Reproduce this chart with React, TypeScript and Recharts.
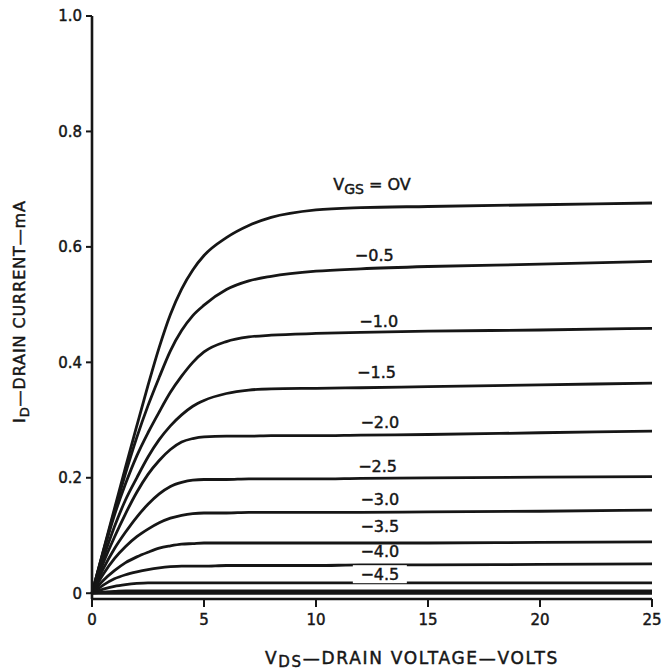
import React from 'react';
import { LineChart, Line, XAxis, YAxis, ReferenceDot } from 'recharts';

// Drain-source voltage sample points (volts)
const vds = [0, 0.5, 1, 1.5, 2, 2.5, 3, 3.5, 4, 4.5, 5, 6, 7, 8, 10, 12, 15, 20, 25];

// Drain current (mA) for each gate voltage
const idVgs0 = [0, 0.073, 0.146, 0.219, 0.29, 0.36, 0.426, 0.483, 0.527, 0.56, 0.585, 0.616, 0.637, 0.651, 0.664, 0.668, 0.67, 0.673, 0.676];
const idVgsM05 = [0, 0.072, 0.142, 0.208, 0.27, 0.325, 0.374, 0.42, 0.455, 0.481, 0.499, 0.526, 0.541, 0.549, 0.558, 0.562, 0.566, 0.57, 0.575];
const idVgsM10 = [0, 0.07, 0.135, 0.19, 0.238, 0.278, 0.314, 0.348, 0.376, 0.4, 0.418, 0.436, 0.444, 0.447, 0.45, 0.452, 0.454, 0.456, 0.459];
const idVgsM15 = [0, 0.06, 0.115, 0.162, 0.2, 0.236, 0.266, 0.29, 0.309, 0.324, 0.334, 0.346, 0.352, 0.354, 0.355, 0.356, 0.358, 0.361, 0.364];
const idVgsM20 = [0, 0.052, 0.097, 0.138, 0.175, 0.206, 0.23, 0.249, 0.262, 0.268, 0.271, 0.272, 0.272, 0.273, 0.273, 0.274, 0.275, 0.278, 0.281];
const idVgsM25 = [0, 0.042, 0.077, 0.106, 0.132, 0.154, 0.172, 0.185, 0.192, 0.196, 0.197, 0.197, 0.198, 0.198, 0.198, 0.199, 0.2, 0.201, 0.202];
const idVgsM30 = [0, 0.033, 0.06, 0.081, 0.098, 0.111, 0.122, 0.13, 0.135, 0.138, 0.139, 0.139, 0.14, 0.14, 0.14, 0.14, 0.141, 0.142, 0.144];
const idVgsM35 = [0, 0.022, 0.039, 0.053, 0.063, 0.071, 0.078, 0.082, 0.085, 0.086, 0.087, 0.087, 0.087, 0.087, 0.087, 0.087, 0.087, 0.088, 0.089];
const idVgsM40 = [0, 0.014, 0.025, 0.032, 0.037, 0.041, 0.044, 0.046, 0.047, 0.047, 0.047, 0.048, 0.048, 0.048, 0.048, 0.049, 0.049, 0.05, 0.051];
const idVgsM45 = [0, 0.007, 0.012, 0.015, 0.017, 0.018, 0.018, 0.018, 0.018, 0.018, 0.018, 0.018, 0.018, 0.018, 0.018, 0.018, 0.018, 0.018, 0.018];
const idVgsM50 = [0, 0.002, 0.003, 0.004, 0.004, 0.004, 0.004, 0.004, 0.004, 0.004, 0.004, 0.004, 0.004, 0.004, 0.004, 0.004, 0.004, 0.004, 0.004];
const idVgsM55 = [0, 0, 0, 0, 0, 0, 0, 0, 0, 0, 0, 0, 0, 0, 0, 0, 0, 0, 0];

const seriesKeys = ['v0', 'm05', 'm10', 'm15', 'm20', 'm25', 'm30', 'm35', 'm40', 'm45', 'm50', 'm55'];
const seriesValues = [idVgs0, idVgsM05, idVgsM10, idVgsM15, idVgsM20, idVgsM25, idVgsM30, idVgsM35, idVgsM40, idVgsM45, idVgsM50, idVgsM55];

// Tick values and labels
const xTicks = [0, 5, 10, 15, 20, 25];
const yTicks = [0, 0.2, 0.4, 0.6, 0.8, 1.0];
const yTickLabels = ['0', '0.2', '0.4', '0.6', '0.8', '1.0'];

// Curve annotations (anchored in data units)
const curveLabelText = ['−0.5', '−1.0', '−1.5', '−2.0', '−2.5', '−3.0', '−3.5', '−4.0', '−4.5'];
const curveLabelVds = [12.6, 12.8, 12.7, 12.85, 12.75, 12.85, 12.85, 12.85, 12.85];
const curveLabelId = [0.586, 0.471, 0.383, 0.296, 0.219, 0.163, 0.115, 0.073, 0.033];
const curveLabelBg = [false, false, false, false, false, false, false, false, true];
const vgsLabelVds = 12.5;
const vgsLabelId = 0.709;

const data = vds.map((v, i) => {
  const row: Record<string, number> = { vds: v };
  seriesKeys.forEach((k, j) => {
    row[k] = seriesValues[j][i];
  });
  return row;
});

const INK = '#161616';
const FONT = '"DejaVu Sans", "Liberation Sans", sans-serif';

const CurveLabel = (props: any) => {
  const { viewBox, text, bg } = props;
  if (!viewBox) return null;
  const cx = viewBox.x + viewBox.width / 2;
  const cy = viewBox.y + viewBox.height / 2;
  return (
    <g>
      {bg && <rect x={cx - 27} y={cy - 9} width={54} height={18} fill="#fff" />}
      <text x={cx} y={cy} dy="0.35em" textAnchor="middle" fontFamily={FONT} fontSize={16} fill={INK} stroke={INK} strokeWidth={0.45}>
        {text}
      </text>
    </g>
  );
};

const VgsLabel = (props: any) => {
  const { viewBox } = props;
  if (!viewBox) return null;
  const cx = viewBox.x + viewBox.width / 2;
  const cy = viewBox.y + viewBox.height / 2;
  return (
    <text x={cx} y={cy} dy="0.35em" textAnchor="middle" fontFamily={FONT} fontSize={16} fill={INK} stroke={INK} strokeWidth={0.45}>
      <tspan>V</tspan>
      <tspan fontSize={14} dy="4">GS</tspan>
      <tspan dy="-4"> = OV</tspan>
    </text>
  );
};

const XTitle = (props: any) => {
  const { viewBox } = props;
  if (!viewBox) return null;
  const cx = viewBox.x + viewBox.width / 2 + 40;
  const y = viewBox.y + 65;
  return (
    <text x={cx} y={y} textAnchor="middle" fontFamily={FONT} fontSize={17} letterSpacing={1.7} fill={INK} stroke={INK} strokeWidth={0.45}>
      <tspan>V</tspan>
      <tspan fontSize={15} dy="3">DS</tspan>
      <tspan dy="-3">—DRAIN VOLTAGE—VOLTS</tspan>
    </text>
  );
};

const YTitle = (props: any) => {
  const { viewBox } = props;
  if (!viewBox) return null;
  const x = 25;
  const cy = viewBox.y + viewBox.height / 2 + 4;
  return (
    <text x={x} y={cy} transform={`rotate(-90 ${x} ${cy})`} textAnchor="middle" fontFamily={FONT} fontSize={16} letterSpacing={0.9} fill={INK} stroke={INK} strokeWidth={0.45}>
      <tspan>I</tspan>
      <tspan fontSize={13} dy="4">D</tspan>
      <tspan dy="-4">—DRAIN CURRENT—mA</tspan>
    </text>
  );
};

const tickStyle = { fill: INK, fontSize: 15, fontFamily: FONT, stroke: INK, strokeWidth: 0.45 };

export default function App() {
  return (
    <div style={{ position: 'absolute', left: 0, top: 0, width: 662, height: 671, background: '#fff' }}>
      <LineChart width={662} height={671} data={data} margin={{ top: 16, right: 10, left: 0, bottom: 0 }}>
        <XAxis
          dataKey="vds"
          type="number"
          domain={[0, 25]}
          ticks={xTicks}
          interval={0}
          height={72}
          tickSize={8}
          tickMargin={7}
          axisLine={{ stroke: INK, strokeWidth: 2.6 }}
          tickLine={{ stroke: INK, strokeWidth: 2 }}
          tick={tickStyle}
          label={(p: any) => <XTitle {...p} />}
        />
        <YAxis
          type="number"
          domain={[-0.01, 1]}
          ticks={yTicks}
          interval={0}
          width={92}
          tickSize={6}
          tickMargin={4}
          allowDataOverflow
          tickFormatter={(v: number) => yTickLabels[yTicks.indexOf(v)] ?? String(v)}
          axisLine={{ stroke: INK, strokeWidth: 2.6 }}
          tickLine={{ stroke: INK, strokeWidth: 2 }}
          tick={tickStyle}
          label={(p: any) => <YTitle {...p} />}
        />
        {seriesKeys.map((k) => (
          <Line
            key={k}
            dataKey={k}
            type="monotone"
            dot={false}
            activeDot={false}
            stroke={INK}
            strokeWidth={2.8}
            isAnimationActive={false}
          />
        ))}
        <ReferenceDot
          x={vgsLabelVds}
          y={vgsLabelId}
          r={1}
          fill="none"
          stroke="none"
          label={(p: any) => <VgsLabel {...p} />}
        />
        {curveLabelText.map((t, i) => (
          <ReferenceDot
            key={t}
            x={curveLabelVds[i]}
            y={curveLabelId[i]}
            r={1}
            fill="none"
            stroke="none"
            label={(p: any) => <CurveLabel {...p} text={t} bg={curveLabelBg[i]} />}
          />
        ))}
      </LineChart>
    </div>
  );
}
